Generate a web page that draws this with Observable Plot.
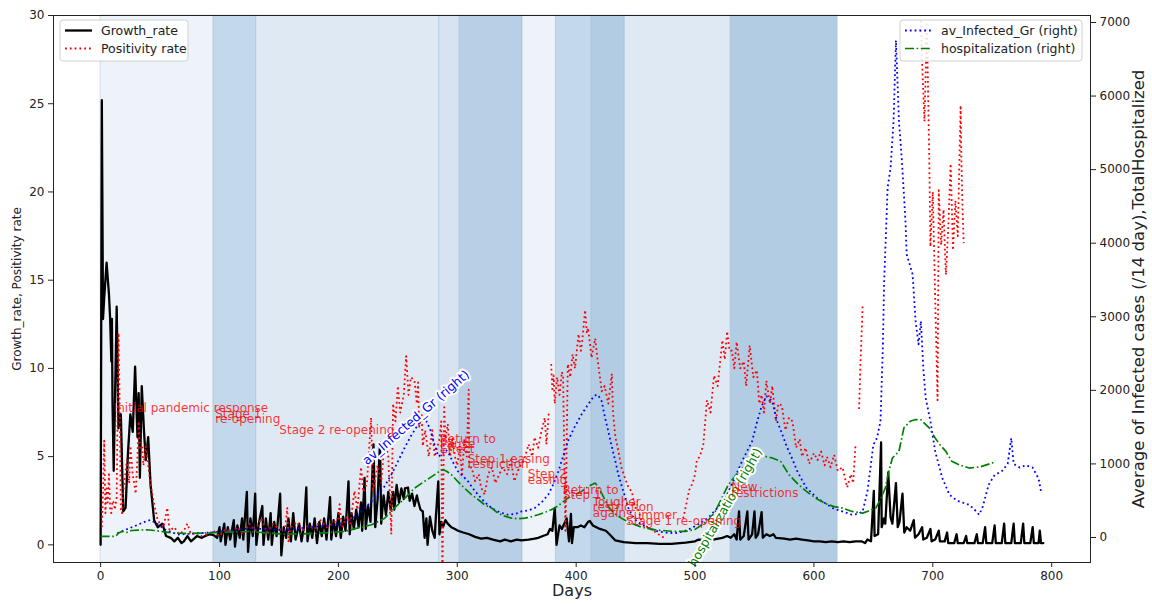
<!DOCTYPE html>
<html>
<head>
<meta charset="utf-8">
<script src="https://cdn.jsdelivr.net/npm/d3@7"></script>
<script src="https://cdn.jsdelivr.net/npm/@observablehq/plot@0.6"></script>
<style>
  body { margin: 0; background: #fff; }
  #chart svg { font-family: "DejaVu Sans", sans-serif; }
</style>
</head>
<body>
<div id="chart"></div>
<script>
// ---- Policy phases (day ranges) and their restriction intensity ----
const phaseStart = [0, 95, 131, 285, 302, 355, 383, 413, 441, 530];
const phaseEnd   = [95, 131, 285, 302, 355, 383, 413, 441, 530, 620];
const phaseLevel = [1, 4, 2, 3, 5, 1, 4, 6, 2, 6];

// ---- Daily growth rate (left axis) : [day, value] ----
const growthRate = [[0,0],[1,25.2],[2,12.8],[3,14],[5,16.0],[7,14.2],[8,12.8],[9,10.4],[9.5,12.8],[10,8],[11,4.2],[13.5,13.5],[15,6.6],[17,7.4],[19,1.9],[21,2.1],[23,5.2],[25,7.4],[27,6.4],[29,10.1],[31,6.1],[32,8.6],[33,3.8],[34.6,9.0],[36.5,6.4],[38,4.8],[40,6.1],[42,3.4],[45,1.4],[48,1.0],[52,1.2],[55,0.5],[59,0.4],[62,0.2],[65,0.4],[68,0.1],[70,0.2],[73,0.5],[76,0.2],[81,0.5],[85,0.4],[88,0.5],[92,0.6],[95,0.55],[98,0.4],[100,1.0],[101,0.2],[104,1.2],[105,0],[107,1.0],[109,0.3],[112,1.4],[113,-0.1],[115,1.1],[117,0.4],[119,1.5],[120,0.3],[123,3.0],[124,-0.4],[126,1.5],[128,0.5],[130,2.9],[131,0],[133,1.2],[136,2.2],[137,0],[139,1.5],[141,0.3],[143,1.8],[144,0],[146,1.3],[148,0.5],[151,2.9],[152,-0.6],[154,1.0],[156,0.4],[158,1.5],[160,0.2],[162,1.8],[164,0.3],[167,1.2],[169,0.2],[171,1.0],[173,3.25],[174,0.2],[176,1.2],[178,0.4],[180,1.5],[182,0.1],[184,1.3],[186,0.5],[188,1.5],[190,0.3],[193,2.7],[194,0.3],[196,1.4],[198,0.5],[200,1.8],[202,0.4],[204,1.6],[206,0.8],[208.5,3.6],[209.5,0.6],[211,1.8],[213,0.9],[215,2.0],[217,1.0],[219,2.4],[220,0.8],[222,3.8],[223,0.9],[225,2.2],[227,1.3],[229.5,5.7],[231,1.0],[233,2.6],[235,5.8],[236,1.2],[238,2.8],[240,1.7],[242,3.0],[244,2.0],[246,3.0],[247,2.0],[249,3.4],[251,2.4],[253,3.2],[255,2.6],[256,3.2],[258.5,3.25],[260,2.5],[262,2.9],[264,2.2],[266,2.8],[267,2.5],[269,2.0],[271,1.9],[272.5,0.4],[274,1.5],[275,0],[277,1.6],[279,0.8],[281,0.4],[282,1.6],[284,3.6],[285,0.6],[286.5,1.3],[288,1.0],[290,1.4],[292,1.2],[295,1.0],[298,0.9],[300.6,0.8],[305,0.7],[310,0.6],[315,0.45],[320,0.35],[325,0.4],[330,0.3],[336,0.2],[340,0.3],[345,0.2],[350,0.3],[354,0.25],[360,0.3],[365,0.35],[368,0.4],[372,0.5],[376,0.6],[378,0.9],[380,0.8],[382,2.1],[383.5,0],[386,1.1],[388,0.9],[390,1.2],[392,1.5],[394,0.2],[395.6,1.75],[396.5,0.1],[398,1.0],[401,1.0],[404,1.1],[407,1.0],[410,1.3],[411.6,1.35],[414,1.1],[417,1.0],[420,0.9],[425,0.8],[428,0.6],[433,0.25],[440,0.15],[450,0.1],[460,0.1],[470,0.05],[480,0.05],[492,0.13],[500,0.2],[503,0.3],[510,0.25],[515,0.3],[523,0.4],[527,0.5],[530,0.4],[533,0.6],[535,0.3],[537,1.9],[538,0.3],[541,0.5],[544,1.9],[545,0.3],[548,0.6],[550,1.9],[551,0.4],[553,0.6],[556,1.85],[557,0.4],[560,0.6],[563,0.5],[566,0.6],[568,0.4],[575,0.35],[580,0.3],[585,0.35],[590,0.3],[595,0.25],[600,0.2],[605,0.2],[610,0.15],[615,0.2],[620,0.15],[625,0.2],[630,0.15],[635,0.2],[640,0.2],[643,0.1],[645,0.3],[648,0.2],[650.4,3.06],[651,0.5],[654,0.6],[656.5,5.8],[657,1.0],[659,1.5],[660,1.2],[662.5,4.1],[664.5,1.55],[666,1.2],[669,3.5],[670.5,1.0],[672,1.3],[674.5,2.9],[676,0.7],[678,1.0],[681,0.8],[684,1.4],[685,0.4],[688,0.6],[691,1.0],[692,0.3],[695,0.4],[698,0.9],[699,0.2],[702,0.3],[705,0.8],[706,0.2],[710,0.2],[712,0.7],[713,0.1],[718,0.1],[720,0.6],[721,0.1],[726,0.1],[728,0.5],[729,0.1],[735,0.1],[737,0.6],[738,0.1],[742,0.1],[744,1.0],[745,0.1],[750,0.1],[752,1.1],[753,0.1],[758,0.1],[760,1.2],[761,0.1],[766,0.1],[768,1.2],[769,0.1],[774,0.1],[776,1.2],[777,0.1],[782,0.1],[784,1.0],[785,0.1],[789,0.1],[790,0.8],[791,0.1],[793,0.1]];

// ---- Test positivity rate (left axis), null = no report ----
const positivityRate = [[1,1.0],[2,3.0],[3,5.9],[4,1.8],[5,3.2],[6,2.4],[7,4.0],[8,2.0],[9,1.8],[10,2.5],[11,2.4],[12,2.0],[13.5,2.7],[15,12.0],[16,8.0],[17,2.0],[18,1.8],[19,3.0],[20,3.5],[22,4.8],[24,3.5],[25,5.6],[27,4.0],[29.5,2.9],[31,5.0],[32,7.0],[33,5.5],[35,5.6],[36,4.5],[38,5.6],[40,4.5],[42,3.4],[45,2.3],[48,1.4],[50,1.2],[53,1.0],[56,2.1],[58,0.8],[62,1.0],[66,0.6],[70,0.8],[73,1.2],[76,0.6],[80,0.7],[85,0.5],[90,0.6],[95,0.8],[100,0.5],[105,0.9],[110,0.7],[115,1.0],[120,0.6],[125,1.2],[130,0.8],[135,1.5],[140,0.7],[145,1.2],[150,0.9],[155,0.8],[157,2.1],[158,0.2],[160,1.0],[165,1.3],[170,0.8],[175,1.1],[180,0.9],[185,1.4],[190,1.0],[195,1.2],[200,1.5],[201,2.3],[203,1.0],[207,1.6],[210,1.2],[213.5,3.05],[216,2.0],[219,4.4],[221,3.0],[224,3.5],[227.5,7.2],[229,3.0],[233,4.5],[236,3.5],[239,6.0],[242,5.0],[244.5,0.6],[246,8.0],[248,7.0],[250,9.0],[252,7.5],[255,8.5],[257,10.7],[259,8.5],[261,9.5],[264,9.3],[266,8.0],[267,9.2],[268,6.7],[270,7.4],[271,5.6],[273,6.5],[276,5.0],[279,6.5],[281,5.0],[283,5.5],[285,6.0],[286.5,7.0],[287.5,-2],[289,7.8],[290,6.0],[292,6.85],[294,5.0],[296,6.1],[298,5.0],[300,4.5],[302,5.5],[304,4.0],[306,6.0],[308,5.0],[309.6,8.8],[310,4.3],[312,4.4],[315,3.6],[318,4.0],[320,3.25],[323,2.85],[326,4.0],[329,4.4],[332,3.5],[334,3.8],[338,4.4],[342,4.0],[345,4.8],[348,3.6],[351,4.2],[354,4.6],[357,5.0],[360,5.7],[363,5.0],[365,6.1],[368,5.5],[371,6.5],[373.6,7.2],[375,5.7],[377,7.5],[378,null],[379,10.25],[380,8.7],[381,9.6],[382,8.0],[384,9.5],[386,8.5],[388,9.8],[389,9.5],[391,0.8],[393,10.25],[395,9.5],[397,10.8],[399,10.0],[402,11.95],[404,11.0],[405,11.5],[407.5,13.3],[409,12.0],[410,12.3],[413,10.6],[414,11.0],[416,11.7],[418,10.5],[420,9.5],[421.5,8.7],[424,9.0],[427,8.0],[430,9.7],[431,7.5],[433,6.1],[435,5.5],[438,4.4],[441,3.8],[444,3.25],[447,3.0],[449.5,2.1],[452,2.1],[455,1.3],[460,1.0],[465,0.8],[469,0.6],[474,0.4],[480,null],[490,1.5],[492,2.1],[495,3.1],[498,3.5],[500,4.0],[501.5,4.8],[504,5.0],[507,5.7],[510,8.2],[513,7.5],[516,9.6],[519,9.0],[523,11.6],[525,10.5],[527,12.1],[529,11.0],[531,11.0],[533,10.0],[535,11.5],[538,10.0],[541,10.4],[543,9.0],[546,11.3],[549,9.5],[552,9.9],[554,8.0],[556,8.5],[558,7.5],[560,9.3],[563,8.0],[565,9.0],[568,7.0],[570,8.0],[573,7.9],[576,6.5],[579,7.2],[582,7.0],[585,5.5],[588,6.0],[590,5.0],[593,5.5],[596,4.6],[600,5.2],[603,4.8],[606,5.3],[609,4.5],[611,5.0],[614,4.4],[617,5.1],[620,4.2],[624,4.4],[628,3.25],[631,4.0],[633,3.5],[635,5.7],[636,null],[638,7.7],[639,10],[641,13.55],[642,null],[689,null],[690,29.7],[691,27.3],[693,24],[695,29.5],[697,22],[698,16.9],[700,20],[702,14],[704,8.2],[705,20.1],[707,17],[709,19],[711,15.3],[713,18],[715,21.6],[717,16.7],[719,19.5],[721,17.5],[723.4,24.9],[724,22],[725,19],[726,17.1]];

// ---- 14-day average of infected cases (right axis) ----
const avInfected = [[14,58],[20,100],[28,150],[35,200],[42,240],[48,180],[55,100],[65,40],[75,50],[85,60],[95,70],[105,90],[115,100],[126,127],[140,110],[155,100],[170,130],[183,150],[195,170],[205,195],[212,260],[219,354],[226,460],[233,580],[239,700],[244.5,854],[250,1030],[255.6,1216],[261,1380],[267,1535],[271,1600],[274,1580],[277,1480],[280,1307],[284,1103],[287,1126],[290,1190],[292,1171],[296,1035],[300.6,899],[305,830],[309,763],[313,670],[317.5,581],[323,480],[329,399],[336,340],[343,309],[349,320],[354,354],[360,370],[365,399],[371,480],[376.5,581],[381,730],[385,899],[389,1100],[393,1307],[398,1480],[404.5,1671],[410,1807],[414,1900],[417,1943],[419,1920],[421.5,1852],[424,1650],[427,1444],[430,1230],[433,1035],[435.5,854],[438,718],[441,560],[444,399],[447,300],[451,220],[455,173],[462,120],[469,82],[476,65],[483,58],[490,80],[497,127],[504,190],[511,263],[518,390],[525.5,535],[532,760],[539.5,1035],[544,1180],[548,1307],[552,1560],[556,1784],[560,1920],[565,1852],[569,1580],[573,1420],[577,1240],[582,1060],[586,900],[590,780],[594,667],[603,531],[611,450],[617,390],[624,354],[632,309],[637,320],[641,354],[645,626],[648,1000],[650,1262],[653,1350],[656,1580],[658,2600],[659,3442],[662,4757],[664.5,5030],[667,5666],[669,6756],[671.5,5666],[674,5121],[677,4304],[678,3851],[683,3578],[685.5,2942],[688,2625],[690,2942],[692,2300],[694,1897],[698,1580],[702,1171],[708,808],[714,581],[718,530],[722,490],[726,470],[730.5,445],[735,380],[739,309],[742,420],[747,718],[752,850],[758,900],[763,1000],[766,1350],[768,1000],[773,950],[778,980],[784,950],[789,800],[791,626]];

// ---- Total hospitalized (right axis) ----
const hospitalization = [[0,14],[5,14],[10,14],[13,20],[15,60],[18,82],[22,70],[26,95],[32,100],[39,105],[45,95],[52,80],[62,58],[75,55],[90,62],[100,70],[110,75],[126,82],[140,60],[154.5,45],[170,50],[183,58],[195,70],[205,82],[216,127],[228,173],[239,263],[247,399],[256,535],[264,671],[272.5,763],[281,854],[285,900],[288,922],[291,900],[295,854],[303,718],[312,581],[318,510],[323,445],[329,399],[334,331],[340,290],[345.5,263],[351,255],[357,263],[362,280],[368,309],[375,350],[382,399],[388,470],[393,535],[399,580],[404.5,626],[410,690],[413,718],[416,740],[418,700],[421.5,600],[427,420],[432,330],[438,263],[445,200],[455,140],[466.5,104],[480,85],[492,82],[500,110],[506,173],[512,250],[517,354],[522,520],[528,718],[534,840],[540,944],[547,1040],[553.5,1103],[560,1100],[565,1080],[572,1035],[579,854],[587,718],[595.6,603],[603,520],[610,460],[617,420],[624,399],[632,354],[641,331],[646,360],[652,399],[656,520],[660,671],[663,900],[666,1080],[671.5,1171],[675.7,1489],[681,1580],[685.6,1603],[690,1600],[697,1489],[702,1352],[706,1260],[711,1171],[716,1035],[722,990],[730.5,944],[740,960],[750,1012],[753,1040]];

// ---- Policy event notes: [day, left-axis value, text] ----
const eventDay  = [11, 96.4, 150.3, 285.5, 308.8, 359.3, 388.8, 414, 442, 530.5];
const eventY    = [7.73, 7.43, 6.48, 6.01, 4.88, 3.99, 3.12, 2.42, 1.66, 3.25];
const eventText = [
  "Initial pandemic response",
  "Stage 1\nre-opening",
  "Stage 2 re-opening",
  "Return to\nPause\nEffect",
  "Step 1 easing\nrestriction",
  "Step 2\neasing",
  "Return to\nStep 1",
  "Tougher\nrestriction\nagain",
  "Summer\nStage 1 re-opening",
  "New\nrestrictions"
];

// ---- Axes ----
const xDomain = [-39.65, 832.65];
const leftDomain = [-1, 30];
const rightDomain = [-340, 7095];
const xTicks = [0, 100, 200, 300, 400, 500, 600, 700, 800];
const leftTicks = [0, 5, 10, 15, 20, 25, 30];
const rightTicks = [0, 1000, 2000, 3000, 4000, 5000, 6000, 7000];

// map right-axis values onto the left-axis scale
const toLeft = d3.scaleLinear().domain(rightDomain).range(leftDomain);

const rows = (pairs) => pairs.map(([day, v]) => ({day, v}));
const rowsRight = (pairs) => pairs.map(([day, v]) => ({day, v: toLeft(v)}));

const phases = phaseStart.map((s, i) => ({start: s, end: phaseEnd[i], level: phaseLevel[i]}));
const shade = {1: "#eef3f9", 2: "#dfe9f4", 3: "#d7e3f0", 4: "#c4d8ec", 5: "#b8cfe6", 6: "#b2cce4"};
const events = eventDay.map((d, i) => ({day: d, y: eventY[i], text: eventText[i]}));

const dotted = "1.8,3";
const dashDot = "9,2.6,1.6,2.6";

const chart = Plot.plot({
  width: 1152,
  height: 604,
  marginLeft: 53,
  marginRight: 62,
  marginTop: 15,
  marginBottom: 42,
  x: {domain: xDomain},
  y: {domain: leftDomain},
  style: {fontFamily: "DejaVu Sans", fontSize: "12px", background: "white", color: "#222"},
  marks: [
    Plot.rect(phases, {x1: "start", x2: "end", fill: (d) => shade[d.level], stroke: "#8fb0d3", strokeOpacity: 0.35, strokeWidth: 1}),
    Plot.line(rows(growthRate), {x: "day", y: "v", stroke: "black", strokeWidth: 2.3, clip: true}),
    Plot.line(rows(positivityRate), {x: "day", y: "v", stroke: "red", strokeWidth: 1.8, strokeDasharray: dotted, strokeLinecap: "butt", clip: true}),
    Plot.line(rowsRight(avInfected), {x: "day", y: "v", stroke: "blue", strokeWidth: 1.8, strokeDasharray: dotted, strokeLinecap: "butt", clip: true}),
    Plot.line(rowsRight(hospitalization), {x: "day", y: "v", stroke: "green", strokeWidth: 1.7, strokeDasharray: dashDot, strokeLinecap: "butt", clip: true}),
    // inline series labels
    Plot.text([{day: 265.3, v: toLeft(1630), t: "av_Infected_Gr (right)"}], {x: "day", y: "v", text: "t", rotate: -41, fill: "blue", stroke: "white", strokeWidth: 4, fontSize: 12.5}),
    Plot.text([{day: 525.5, v: toLeft(408), t: "hospitalization (right)"}], {x: "day", y: "v", text: "t", rotate: -60, fill: "green", stroke: "white", strokeWidth: 4, fontSize: 12.5}),
    // policy notes
    Plot.text(events, {x: "day", y: "y", text: "text", textAnchor: "start", lineAnchor: "top", lineHeight: 0.45, fill: "red", fillOpacity: 0.8, fontSize: 12}),
    // axes
    Plot.axisX(xTicks, {tickSize: 5, tickPadding: 4, label: null, fontSize: 12}),
    Plot.axisY(leftTicks, {anchor: "left", tickSize: 5, tickPadding: 4, label: null, fontSize: 12}),
    Plot.axisY(rightTicks.map((t) => toLeft(t)), {anchor: "right", tickSize: 5, tickPadding: 4, label: null, fontSize: 12,
      tickFormat: (d) => String(Math.round(toLeft.invert(d)))}),
    Plot.text(["Days"], {frameAnchor: "bottom", dy: 33, fontSize: 16, fill: "#222"}),
    Plot.text(["Growth_rate, Positivity rate"], {frameAnchor: "left", textAnchor: "middle", dx: -36, rotate: -90, fontSize: 12, fill: "#222"}),
    Plot.text(["Average of Infected cases (/14 day),TotalHospitalized"], {frameAnchor: "right", textAnchor: "middle", dx: 48, rotate: -90, fontSize: 16.5, fill: "#222"}),
    Plot.frame({stroke: "#222", strokeWidth: 1})
  ]
});

document.getElementById("chart").append(chart);

// ---- Legends inside the plot area ----
const svg = d3.select(chart);
function legend(x0, y0, w, entries) {
  const g = svg.append("g").attr("transform", `translate(${x0},${y0})`)
    .attr("font-family", "DejaVu Sans").attr("font-size", 12.5).attr("text-anchor", "start");
  g.append("rect").attr("width", w).attr("height", 41).attr("rx", 3)
    .attr("fill", "white").attr("fill-opacity", 0.85).attr("stroke", "#d0d0d0");
  entries.forEach((e, i) => {
    const cy = 10.5 + i * 18;
    g.append("line").attr("x1", 5).attr("x2", 32).attr("y1", cy).attr("y2", cy)
      .attr("stroke", e.color).attr("stroke-width", e.width).attr("stroke-dasharray", e.dash || null);
    g.append("text").attr("x", 41).attr("y", cy).attr("dy", "0.35em").attr("fill", "#222").text(e.label);
  });
}
legend(60, 20, 128, [
  {label: "Growth_rate", color: "black", width: 2.3},
  {label: "Positivity rate", color: "red", width: 1.8, dash: dotted}
]);
legend(900, 20, 182, [
  {label: "av_Infected_Gr (right)", color: "blue", width: 1.8, dash: dotted},
  {label: "hospitalization (right)", color: "green", width: 1.7, dash: dashDot}
]);
</script>
</body>
</html>
